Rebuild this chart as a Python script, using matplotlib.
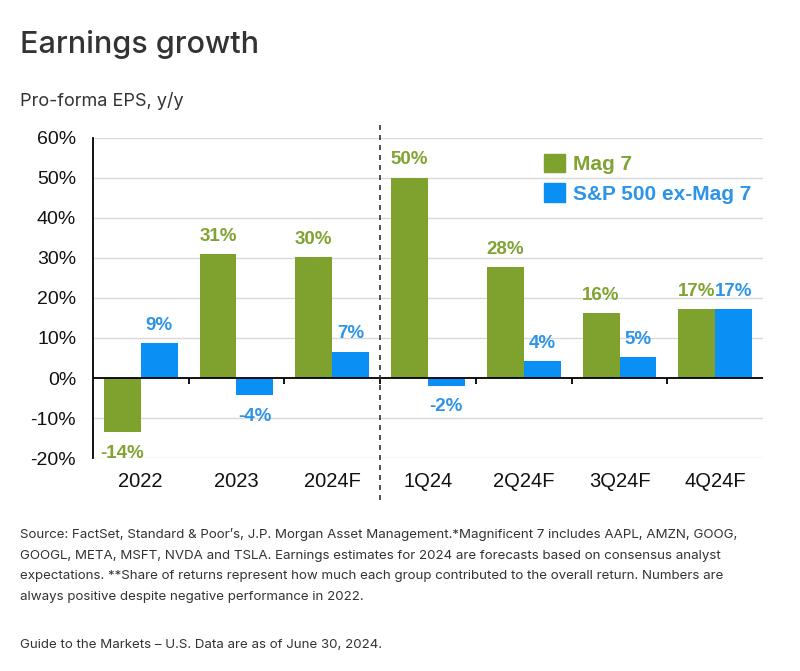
import numpy as np
import matplotlib.pyplot as plt
import matplotlib.transforms as mtransforms
from matplotlib.patches import Patch

categories = ["2022", "2023", "2024F", "1Q24", "2Q24F", "3Q24F", "4Q24F"]
mag7 = [-13.6, 31.0, 30.2, 50.1, 27.8, 16.3, 17.2]
sp_ex = [8.8, -4.3, 6.6, -1.9, 4.3, 5.2, 17.2]
y_ticks = [-20, -10, 0, 10, 20, 30, 40, 50, 60]

GREEN = "#7FA22E"
BLUE = "#0A90F5"
GREEN_TXT = "#80A332"
BLUE_TXT = "#2E94E8"
DARK = "#333333"

footnote = (
    "Source: FactSet, Standard & Poor\u2019s, J.P. Morgan Asset Management.*Magnificent 7 includes AAPL, AMZN, GOOG,\n"
    "GOOGL, META, MSFT, NVDA and TSLA. Earnings estimates for 2024 are forecasts based on consensus analyst\n"
    "expectations. **Share of returns represent how much each group contributed to the overall return. Numbers are\n"
    "always positive despite negative performance in 2022."
)
guide = "Guide to the Markets \u2013 U.S. Data are as of June 30, 2024."


def label_bars(ax, xs, vals, color):
    for xi, v in zip(xs, vals):
        off = 2.3 if v >= 0 else -3.2
        ax.text(xi, v + off, f"{round(v):.0f}%", ha="center",
                va="bottom" if v >= 0 else "top", color=color,
                fontsize=13.5, fontweight="bold", family="Liberation Sans",
                clip_on=False)


def main():
    fig = plt.figure(figsize=(8, 6.71), dpi=100)
    ax = fig.add_axes([0.116, 0.3174, 0.838, 0.477])

    x = np.arange(len(categories))
    w = 0.385
    ax.bar(x - w / 2, mag7, w, color=GREEN, zorder=3)
    ax.bar(x + w / 2, sp_ex, w, color=BLUE, zorder=3)
    label_bars(ax, x - w / 2, mag7, GREEN_TXT)
    label_bars(ax, x + w / 2, sp_ex, BLUE_TXT)

    ax.set_xlim(-0.5, len(categories) - 0.5)
    ax.set_ylim(-20, 60)
    ax.set_yticks(y_ticks)
    ax.set_yticklabels([f"{t}%" for t in y_ticks], family="Liberation Sans",
                       fontsize=14, color="#111111")
    ax.set_xticks(x)
    ax.set_xticklabels(categories, family="Liberation Sans", fontsize=14.5,
                       color="#111111")
    ax.tick_params(axis="both", length=0)
    ax.tick_params(axis="y", pad=12)
    ax.tick_params(axis="x", pad=10)

    for t in y_ticks:
        if t != 0:
            ax.axhline(t, color="#D9D9D9", lw=1, zorder=1)
    ax.axhline(0, color="black", lw=1.3, zorder=4)
    # category separator ticks on the zero line
    ax.vlines(x[1:] - 0.5, -1.6, 0, color="black", lw=1.3, zorder=4)

    for s in ["top", "right", "bottom"]:
        ax.spines[s].set_visible(False)
    ax.spines["left"].set_linewidth(1.3)

    # dashed divider between annual and quarterly
    trans = mtransforms.blended_transform_factory(ax.transData, ax.transAxes)
    ax.plot([2.5, 2.5], [-0.13, 1.05], transform=trans, color="#333333",
            lw=1.2, ls=(0, (3, 3)), clip_on=False, zorder=5)

    handles = [Patch(color=GREEN), Patch(color=BLUE)]
    leg = ax.legend(handles, ["Mag 7", "S&P 500 ex-Mag 7"], loc="upper left",
                    bbox_to_anchor=(0.645, 1.01), frameon=False,
                    handlelength=1.0, handleheight=1.0, handletextpad=0.4,
                    labelspacing=0.45,
                    prop={"family": "Liberation Sans", "weight": "bold", "size": 15})
    for txt, c in zip(leg.get_texts(), [GREEN_TXT, BLUE_TXT]):
        txt.set_color(c)

    fig.text(0.025, 0.933, "Earnings growth", fontsize=22, color=DARK,
             family="Inter", fontweight="medium", va="center")
    fig.text(0.025, 0.850, "Pro-forma EPS, y/y", fontsize=13, color=DARK,
             family="Inter", va="center")
    fig.text(0.025, 0.213, footnote, fontsize=9.6, color=DARK, family="Inter",
             va="top", linespacing=1.95)
    fig.text(0.025, 0.039, guide, fontsize=9.6, color=DARK, family="Inter",
             va="center")

    fig.savefig("out.png", dpi=100, facecolor="white")


if __name__ == "__main__":
    main()
